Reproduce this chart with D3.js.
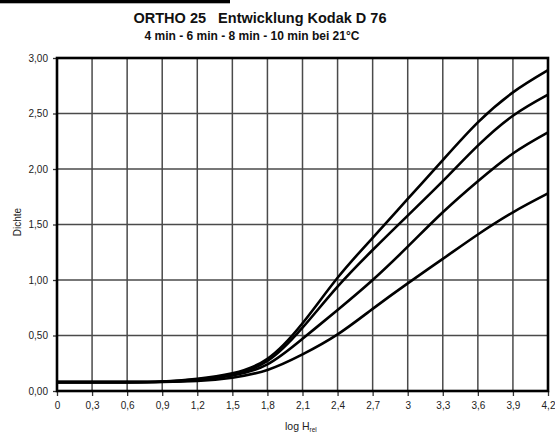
<!DOCTYPE html>
<html><head><meta charset="utf-8">
<script src="https://cdn.jsdelivr.net/npm/d3@7"></script>
<style>html,body{margin:0;padding:0;background:#fff;}svg{display:block;}</style>
</head><body>
<svg id="c" width="555" height="434"></svg>
<script>
const logH = [0, 0.3, 0.6, 0.9, 1.2, 1.5, 1.8, 2.1, 2.4, 2.7, 3.0, 3.3, 3.6, 3.9, 4.2];
const d10 = [0.08, 0.08, 0.08, 0.085, 0.11, 0.16, 0.29, 0.61, 1.02, 1.38, 1.73, 2.08, 2.42, 2.69, 2.89];
const d8  = [0.08, 0.08, 0.08, 0.084, 0.105, 0.15, 0.27, 0.57, 0.94, 1.27, 1.58, 1.89, 2.21, 2.48, 2.67];
const d6  = [0.08, 0.08, 0.08, 0.083, 0.10, 0.14, 0.24, 0.47, 0.73, 1.00, 1.30, 1.61, 1.89, 2.14, 2.33];
const d4  = [0.08, 0.08, 0.08, 0.082, 0.09, 0.12, 0.19, 0.33, 0.51, 0.74, 0.97, 1.19, 1.41, 1.61, 1.78];
const xTicks = [0, 0.3, 0.6, 0.9, 1.2, 1.5, 1.8, 2.1, 2.4, 2.7, 3, 3.3, 3.6, 3.9, 4.2];
const yTicks = [0, 0.5, 1.0, 1.5, 2.0, 2.5, 3.0];
const title = "ORTHO 25   Entwicklung Kodak D 76";
const subtitle = "4 min - 6 min - 8 min - 10 min bei 21°C";

const svg = d3.select("#c");
const L = 57, R = 548, T = 58, B = 391;
const x = d3.scaleLinear().domain([0, 4.2]).range([L, R]);
const y = d3.scaleLinear().domain([0, 3]).range([B, T]);
const font = "'Liberation Sans', Arial, sans-serif";
const fmtY = d => d3.format(".2f")(d).replace(".", ",");
const fmtX = d => String(d).replace(".", ",");

// black bar top-left
svg.append("rect").attr("x", 0).attr("y", 0).attr("width", 230).attr("height", 3.3).attr("fill", "#000");

// titles
svg.append("text").attr("x", 260).attr("y", 23).attr("text-anchor", "middle")
  .style("white-space", "pre")
  .attr("font-family", font).attr("font-weight", "bold").attr("font-size", 14.5).attr("fill", "#111").text(title);
svg.append("text").attr("x", 252).attr("y", 40).attr("text-anchor", "middle")
  .attr("font-family", font).attr("font-weight", "bold").attr("font-size", 12).attr("fill", "#111").text(subtitle);

// grid
const g = svg.append("g");
g.selectAll(".vg").data(xTicks.slice(1, -1)).join("line")
  .attr("x1", d => x(d)).attr("x2", d => x(d)).attr("y1", T).attr("y2", B)
  .attr("stroke", "#4a4a4a").attr("stroke-width", 1.5);
g.selectAll(".hg").data(yTicks.slice(1, -1)).join("line")
  .attr("x1", L).attr("x2", R).attr("y1", d => y(d)).attr("y2", d => y(d))
  .attr("stroke", "#4a4a4a").attr("stroke-width", 1.5);

// axes
const xAxis = d3.axisBottom(x).tickValues(xTicks).tickFormat(fmtX).tickSize(5).tickPadding(6);
const yAxis = d3.axisLeft(y).tickValues(yTicks).tickFormat(fmtY).tickSize(4).tickPadding(5);
const gx = svg.append("g").attr("transform", `translate(0,${B})`).call(xAxis);
const gy = svg.append("g").attr("transform", `translate(${L},0)`).call(yAxis);
[gx, gy].forEach(a => {
  a.select(".domain").remove();
  a.selectAll("line").attr("stroke", "#333").attr("stroke-width", 1.3);
  a.selectAll("text").attr("font-family", font).attr("font-size", 10).attr("fill", "#222");
});

// frame
svg.append("rect").attr("x", L).attr("y", T).attr("width", R - L).attr("height", B - T)
  .attr("fill", "none").attr("stroke", "#000").attr("stroke-width", 2.6);

// curves
const line = d3.line().x((d, i) => x(logH[i])).y(d => y(d)).curve(d3.curveNatural);
const series = [d4, d6, d8, d10];
svg.append("g").selectAll("path").data(series).join("path")
  .attr("d", d => line(d)).attr("fill", "none").attr("stroke", "#000").attr("stroke-width", 2.6)
  .attr("stroke-linejoin", "round");

// axis titles
const xl = svg.append("text").attr("x", 285).attr("y", 430).attr("font-family", font).attr("font-size", 10.5).attr("fill", "#222");
xl.append("tspan").text("log H");
xl.append("tspan").attr("font-size", 6.5).attr("dy", 2).text("rel");
svg.append("text").attr("transform", "translate(21,222) rotate(-90)").attr("text-anchor", "middle")
  .attr("font-family", font).attr("font-size", 10).attr("fill", "#222").text("Dichte");
</script>
</body></html>
